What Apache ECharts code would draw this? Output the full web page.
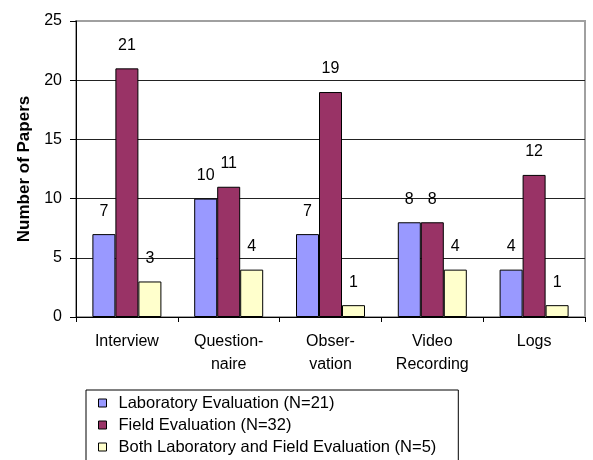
<!DOCTYPE html>
<html>
<head>
<meta charset="utf-8">
<script src="https://cdn.jsdelivr.net/npm/echarts@6/dist/echarts.min.js"></script>
<style>
  html, body { margin: 0; padding: 0; background: #fff; }
  #chart { width: 593px; height: 460px; }
</style>
</head>
<body>
<div id="chart"></div>
<script>
// Evaluation methods used across papers, by evaluation setting
const categories = ['Interview', 'Question-\nnaire', 'Obser-\nvation', 'Video\nRecording', 'Logs'];
const seriesNames = [
  'Laboratory Evaluation (N=21)',
  'Field Evaluation (N=32)',
  'Both Laboratory and Field Evaluation (N=5)'
];
const labValues = [7, 10, 7, 8, 4];
const fieldValues = [21, 11, 19, 8, 12];
const bothValues = [3, 4, 1, 4, 1];
const yTicks = [0, 5, 10, 15, 20, 25];

const FONT = "'Liberation Sans', Arial, sans-serif";
const colors = ['#9999FF', '#993366', '#FFFFCC'];

function barSeries(name, values, color) {
  return {
    name: name,
    type: 'bar',
    data: values,
    barWidth: 23,
    barGap: '0%',
    itemStyle: { color: color, borderColor: '#000', borderWidth: 1 },
    label: {
      show: true,
      position: 'top',
      distance: 15,
      color: '#000',
      fontFamily: FONT,
      fontSize: 16
    }
  };
}

const chart = echarts.init(document.getElementById('chart'), null, { renderer: 'canvas' });
chart.setOption({
  animation: false,
  backgroundColor: '#fff',
  textStyle: { fontFamily: FONT },
  grid: {
    left: 76, right: 8, top: 21, bottom: 143,
    show: true,
    borderColor: '#a0a0a0',
    borderWidth: 2,
    backgroundColor: 'transparent'
  },
  legend: {
    orient: 'vertical',
    left: 86,
    top: 390,
    height: 140,
    padding: [2, 22, 20, 12],
    itemGap: 0,
    itemWidth: 8,
    itemHeight: 8,
    borderColor: '#000',
    borderWidth: 1,
    backgroundColor: '#fff',
    icon: 'rect',
    itemStyle: { borderColor: '#000', borderWidth: 1 },
    textStyle: {
      fontFamily: FONT,
      fontSize: 16.5,
      color: '#000',
      lineHeight: 22,
      padding: [0, 0, 0, 7]
    },
    data: seriesNames
  },
  xAxis: {
    type: 'category',
    data: categories,
    boundaryGap: true,
    axisLine: { lineStyle: { color: '#000', width: 1 } },
    axisTick: { show: true, length: 5, lineStyle: { color: '#000' } },
    axisLabel: {
      color: '#000',
      fontFamily: FONT,
      fontSize: 16,
      lineHeight: 23,
      margin: 13,
      interval: 0
    },
    splitLine: { show: false }
  },
  yAxis: {
    type: 'value',
    min: yTicks[0],
    max: yTicks[yTicks.length - 1],
    interval: 5,
    name: 'Number of Papers',
    nameLocation: 'middle',
    nameGap: 42,
    nameRotate: 90,
    nameTextStyle: {
      fontFamily: FONT,
      fontSize: 17,
      fontWeight: 'bold',
      color: '#000'
    },
    axisLine: { show: true, lineStyle: { color: '#000', width: 1 } },
    axisTick: { show: true, length: 6, inside: false, lineStyle: { color: '#000' } },
    axisLabel: {
      color: '#000',
      fontFamily: FONT,
      fontSize: 16,
      margin: 14
    },
    splitLine: {
      show: true,
      lineStyle: {
        color: ['#222', '#222', '#222', '#222', '#222', '#a0a0a0'],
        width: 1
      }
    }
  },
  series: [
    barSeries(seriesNames[0], labValues, colors[0]),
    barSeries(seriesNames[1], fieldValues, colors[1]),
    barSeries(seriesNames[2], bothValues, colors[2])
  ]
});
</script>
</body>
</html>
